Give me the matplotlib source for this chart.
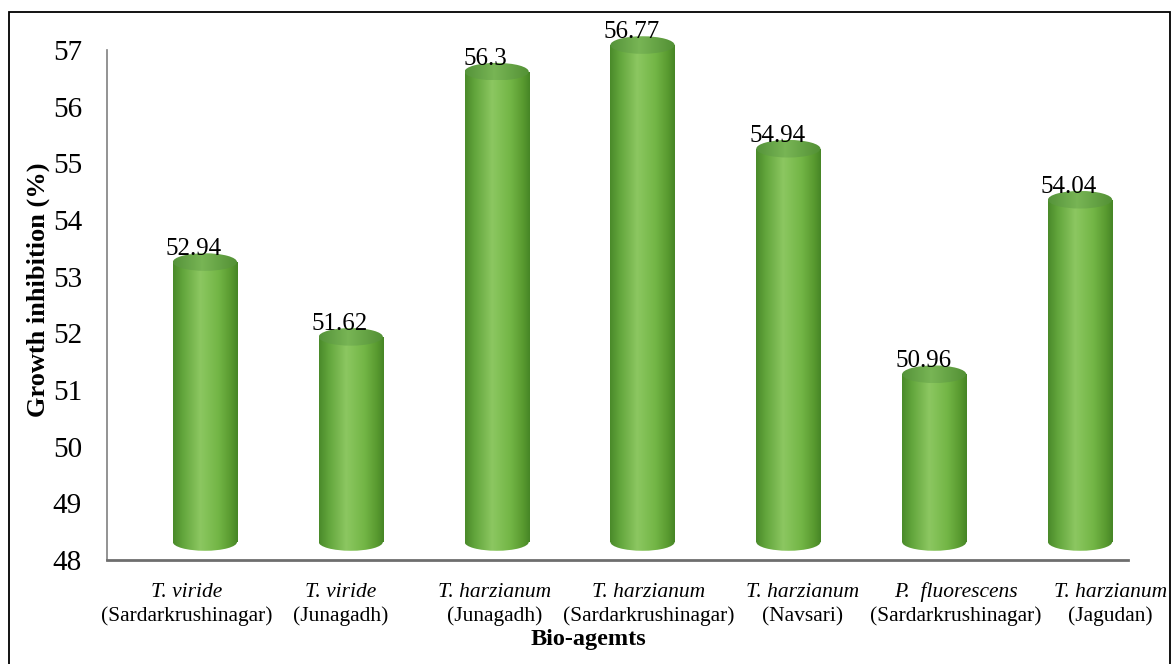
import numpy as np
import matplotlib.pyplot as plt
from matplotlib.patches import Ellipse, Rectangle
from matplotlib.colors import LinearSegmentedColormap
from matplotlib.transforms import ScaledTranslation, blended_transform_factory

species = ['T. viride', 'T. viride', 'T. harzianum', 'T. harzianum',
           'T. harzianum', 'P.  fluorescens', 'T. harzianum']
places = ['(Sardarkrushinagar)', '(Junagadh)', '(Junagadh)', '(Sardarkrushinagar)',
          '(Navsari)', '(Sardarkrushinagar)', '(Jagudan)']
inhibition = [52.94, 51.62, 56.3, 56.77, 54.94, 50.96, 54.04]
value_labels = ['52.94', '51.62', '56.3', '56.77', '54.94', '50.96', '54.04']
y_ticks = list(range(48, 58))

plt.rcParams['font.family'] = 'Liberation Serif'

W, H = 1173, 664
fig = plt.figure(figsize=(W / 100, H / 100), dpi=100)
# axes: 48 at y=560px, 57 at y=50px; extra headroom above for the cylinder tops
ax = fig.add_axes([107 / W, 1 - 560 / H, (1128 - 107) / W, 540 / H])
ax.set_facecolor('none')

body_cmap = LinearSegmentedColormap.from_list('body', [
    (0.0, '#4a8a2a'), (0.15, '#62a53c'), (0.42, '#8cc761'),
    (0.7, '#73b646'), (0.9, '#58992f'), (1.0, '#468526')])
top_cmap = LinearSegmentedColormap.from_list('top', [
    (0.0, '#55933a'), (0.45, '#78b555'), (1.0, '#529034')])

# 3D depth: the cylinders sit in front of the back wall
depth = ax.transData + ScaledTranslation(0.25, 0.18, fig.dpi_scale_trans)
w = 0.44    # bar width
eh = 0.31   # ellipse height in data units
grad = np.linspace(0, 1, 256).reshape(1, -1)

for i, v in enumerate(inhibition):
    body = ax.bar(i, v - 48, bottom=48, width=w, color='none', linewidth=0)[0]
    body.set_transform(depth)
    im = ax.imshow(grad, cmap=body_cmap, aspect='auto', zorder=2,
                   extent=(i - w / 2, i + w / 2, 48, v), transform=depth)
    im.set_clip_path(body)

    base = Ellipse((i, 48), w, eh, transform=depth, facecolor='none', edgecolor='none')
    ax.add_patch(base)
    im = ax.imshow(grad, cmap=body_cmap, aspect='auto', zorder=2,
                   extent=(i - w / 2, i + w / 2, 48 - eh / 2, 48 + eh / 2), transform=depth)
    im.set_clip_path(base)

    top = Ellipse((i, v), w, eh, transform=depth, facecolor='none', edgecolor='none')
    ax.add_patch(top)
    im = ax.imshow(grad, cmap=top_cmap, aspect='auto', zorder=3,
                   extent=(i - w / 2, i + w / 2, v - eh / 2, v + eh / 2), transform=depth)
    im.set_clip_path(top)

    ax.text(i, v, value_labels[i], fontsize=18, ha='center', va='baseline', zorder=4,
            transform=ax.transData + ScaledTranslation(0.14, 0.25, fig.dpi_scale_trans))

ax.set_xlim(-0.5, 6.5)
ax.set_ylim(48, 57 + 30 / (510 / 9))
ax.set_yticks(y_ticks)
ax.set_xticks([])
ax.tick_params(axis='y', length=0, labelsize=21, pad=18)

for s in ['top', 'right']:
    ax.spines[s].set_visible(False)
ax.spines['left'].set_bounds(48, 57)
ax.spines['left'].set_color('#808080')
ax.spines['left'].set_linewidth(1.2)
ax.spines['bottom'].set_color('#6e6e6e')
ax.spines['bottom'].set_linewidth(2)

# category labels: italic species over plain location
for i in range(len(species)):
    dx = (-18 + 8 * i) / 100 + 0.25
    tr = blended_transform_factory(ax.transData, ax.transAxes)
    ax.text(i, 0, species[i], style='italic', fontsize=15.5, ha='center', va='baseline',
            transform=tr + ScaledTranslation(dx, -0.37, fig.dpi_scale_trans))
    ax.text(i, 0, places[i], fontsize=15.5, ha='center', va='baseline',
            transform=tr + ScaledTranslation(dx, -0.61, fig.dpi_scale_trans))

fig.text(38 / W, 1 - 290 / H, 'Growth inhibition (%)', rotation=90, fontsize=19,
         fontweight='bold', ha='center', va='center')
fig.text(588 / W, 1 - 639 / H, 'Bio-agemts', fontsize=17.5, fontweight='bold',
         ha='center', va='center')

# outer frame
fig.patches.append(Rectangle((9 / W, -0.1), (1170 - 9) / W, 1.1 - 12 / H,
                             transform=fig.transFigure, fill=False,
                             edgecolor='black', linewidth=1.3))

fig.savefig('out.png', dpi=100)
